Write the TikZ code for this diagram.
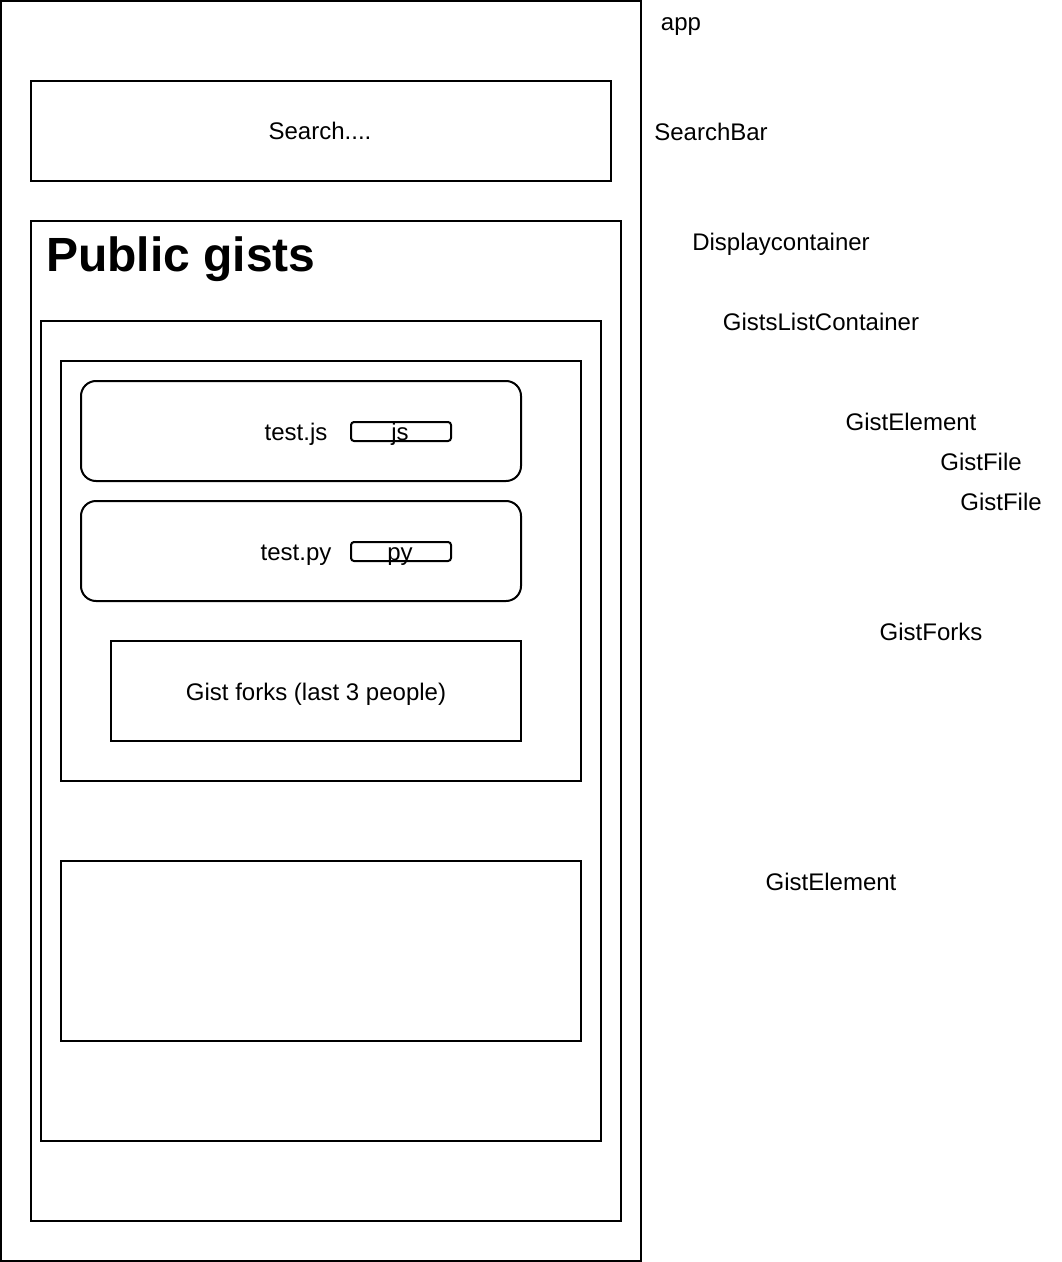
\documentclass[tikz,border=0pt]{standalone}
\usepackage{fontspec}
\setmainfont{Liberation Sans}
\begin{document}
\begin{tikzpicture}[x=0.75pt,y=-0.75pt,
  box/.style={draw, line width=1.5pt, inner sep=0pt, outer sep=0pt},
  lbl/.style={font=\fontsize{18}{21}\selectfont, text height=12.9pt, text depth=0pt, inner sep=0pt},
  title/.style={font=\fontsize{36}{42}\selectfont\bfseries, text height=25.8pt, text depth=0pt, inner sep=0pt}
]
\useasboundingbox (0,0) rectangle (1062,1262);
% containers
\node[box, minimum width=480pt, minimum height=945pt] (app) at (321,631) {};
\node[box, minimum width=435pt, minimum height=75pt] (search) at (321,131) {};
\node[lbl] (searchtxt) at (320,131) {Search....};
\node[box, minimum width=442.5pt, minimum height=750pt] (display) at (326,721) {};
\node[title, anchor=west] (pub) at (46,254) {Public gists};
\node[box, minimum width=420pt, minimum height=615pt] (list) at (321,731) {};
\node[box, minimum width=390pt, minimum height=315pt] (elem1) at (321,571) {};
\node[box, rounded corners=11.25pt, minimum width=330pt, minimum height=75pt] (file1) at (301,431) {};
\node[lbl] (file1txt) at (296,432) {test.js};
\node[box, rounded corners=2.25pt, minimum width=75pt, minimum height=14.25pt] (tag1) at (401,431.5) {};
\node[lbl] (tag1txt) at (400,432) {js};
\node[box, rounded corners=11.25pt, minimum width=330pt, minimum height=75pt] (file2) at (301,551) {};
\node[lbl] (file2txt) at (296,552) {test.py};
\node[box, rounded corners=2.25pt, minimum width=75pt, minimum height=14.25pt] (tag2) at (401,551.5) {};
\node[lbl] (tag2txt) at (400,552) {py};
\node[box, minimum width=307.5pt, minimum height=75pt] (forks) at (316,691) {};
\node[lbl] (forkstxt) at (316,692) {Gist forks (last 3 people)};
\node[box, minimum width=390pt, minimum height=135pt] (elem2) at (321,951) {};
% side labels
\node[lbl] (lapp) at (681,22) {app};
\node[lbl] (lsearch) at (711,132) {SearchBar};
\node[lbl] (ldisplay) at (781,242) {Displaycontainer};
\node[lbl] (llist) at (821,322) {GistsListContainer};
\node[lbl] (lelem1) at (911,422) {GistElement};
\node[lbl] (lfile1) at (981,462) {GistFile};
\node[lbl] (lfile2) at (1001,502) {GistFile};
\node[lbl] (lforks) at (931,632) {GistForks};
\node[lbl] (lelem2) at (831,882) {GistElement};
\end{tikzpicture}
\end{document}
